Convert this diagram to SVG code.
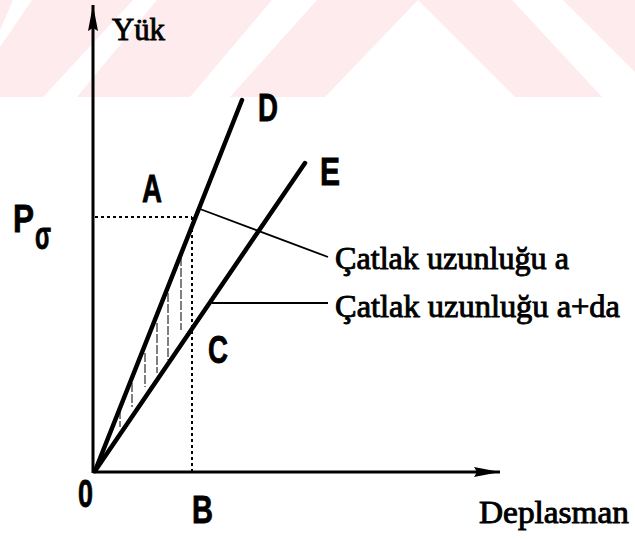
<svg xmlns="http://www.w3.org/2000/svg" width="635" height="539" viewBox="0 0 635 539">
<defs>
<style>
.wm{fill:#fdebee}
.wh{fill:#ffffff}
.axis{stroke:#000;stroke-width:3;fill:none}
.curve{stroke:#000;stroke-width:4.5;fill:none;stroke-linecap:round}
.dot{stroke:#000;stroke-width:2;fill:none;stroke-dasharray:3 3}
.lead{stroke:#000;stroke-width:1.8;fill:none}
.hatch{stroke:#000;stroke-width:1;fill:none;stroke-dasharray:9 2}
.ser{font-family:"Liberation Serif","Times New Roman",serif;font-size:31px;fill:#000;stroke:#000;stroke-width:0.9}
.lab{font-family:"Liberation Sans",Arial,sans-serif;font-weight:bold;font-size:38px;fill:#000;stroke:#000;stroke-width:0.8}
</style>
<marker id="ah" viewBox="0 0 26 12" refX="26" refY="6" markerWidth="26" markerHeight="12" markerUnits="userSpaceOnUse" orient="auto">
<path d="M0,1 L26,6 L0,11 L3,6 Z" fill="#000"/>
</marker>
</defs>
<rect width="635" height="539" fill="#fff"/>
<g id="watermark">
<rect class="wm" x="0" y="0" width="635" height="97"/>
<polygon class="wh" points="0,30 13,0 32,0 0,47"/>
<polygon class="wh" points="133,0 157,0 77,97 43,97"/>
<polygon class="wh" points="272,0 317,0 230,97 190,97"/>
<polygon class="wh" points="418,0 515,97 325,97"/>
<polygon class="wh" points="512,0 563,0 635,72 635,97 602,97"/>
</g>
<g id="connectors">
<line class="axis" x1="93" y1="473" x2="93" y2="5" marker-end="url(#ah)"/>
<line class="axis" x1="93" y1="472" x2="500" y2="472" marker-end="url(#ah)"/>
<line class="curve" x1="95" y1="471" x2="242" y2="100"/>
<line class="curve" x1="95" y1="471" x2="305" y2="163"/>
<line class="dot" x1="95" y1="217" x2="192" y2="217"/>
<line class="dot" x1="192" y1="217" x2="192" y2="471"/>
<line class="lead" x1="200" y1="209" x2="328" y2="257"/>
<line class="lead" x1="212" y1="303" x2="328" y2="303"/>
<line class="hatch" x1="120" y1="410" x2="120" y2="427"/>
<line class="hatch" x1="132" y1="383" x2="132" y2="407"/>
<line class="hatch" x1="145" y1="353" x2="145" y2="387"/>
<line class="hatch" x1="157" y1="323" x2="157" y2="373"/>
<line class="hatch" x1="168" y1="293" x2="168" y2="360"/>
<line class="hatch" x1="181" y1="257" x2="181" y2="330"/>
</g>
<g id="label-yuk"><text class="ser" x="112" y="40" textLength="53" lengthAdjust="spacingAndGlyphs">Yük</text></g>
<g id="label-deplasman"><text class="ser" x="479" y="523" textLength="150" lengthAdjust="spacingAndGlyphs">Deplasman</text></g>
<g id="label-a"><text class="ser" x="335" y="269" textLength="234" lengthAdjust="spacingAndGlyphs">Çatlak uzunluğu a</text></g>
<g id="label-ada"><text class="ser" x="335" y="317" textLength="285" lengthAdjust="spacingAndGlyphs">Çatlak uzunluğu a+da</text></g>
<g id="node-A"><text class="lab" x="142" y="202" textLength="20" lengthAdjust="spacingAndGlyphs">A</text></g>
<g id="node-C"><text class="lab" x="208" y="363" textLength="20" lengthAdjust="spacingAndGlyphs">C</text></g>
<g id="node-D"><text class="lab" x="258" y="121" textLength="20" lengthAdjust="spacingAndGlyphs">D</text></g>
<g id="node-E"><text class="lab" x="320" y="185" textLength="20" lengthAdjust="spacingAndGlyphs">E</text></g>
<g id="node-P"><text class="lab" x="13" y="232" font-size="40" textLength="21" lengthAdjust="spacingAndGlyphs">P</text><text class="lab" x="35" y="249" font-size="26" textLength="16" lengthAdjust="spacingAndGlyphs">σ</text></g>
<g id="node-0"><text class="lab" x="78" y="507" font-size="34" textLength="15" lengthAdjust="spacingAndGlyphs">0</text></g>
<g id="node-B"><text class="lab" x="192" y="523" font-size="36" textLength="21" lengthAdjust="spacingAndGlyphs">B</text></g>
</svg>
